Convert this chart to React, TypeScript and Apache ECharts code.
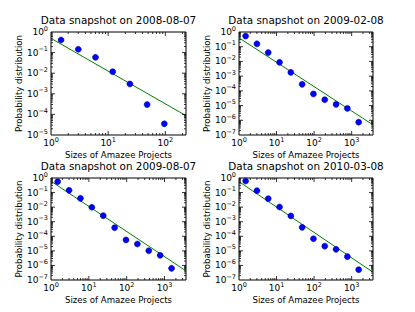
import React, { useEffect, useRef } from 'react';
import * as echarts from 'echarts';

const titles = [
  'Data snapshot on 2008-08-07',
  'Data snapshot on 2009-02-08',
  'Data snapshot on 2009-08-07',
  'Data snapshot on 2010-03-08',
];
const xAxisTitle = 'Sizes of Amazee Projects';
const yAxisTitle = 'Probability distribution';

const projectSizes = [1.5, 3, 6, 12, 24, 48, 96, 192, 384, 768, 1536];

const prob2008_08 = [0.41, 0.145, 0.059, 0.0118, 0.003, 3.0e-4, 3.5e-5];
const prob2009_02 = [0.53, 0.157, 0.04, 0.0087, 0.0018, 2.8e-4, 6.2e-5, 2.5e-5, 1.2e-5, 6.4e-6, 7.4e-7];
const prob2009_08 = [0.56, 0.143, 0.04, 0.0098, 0.0026, 3.9e-4, 5.6e-5, 2.95e-5, 1.02e-5, 4.95e-6, 6.3e-7];
const prob2010_03 = [0.62, 0.134, 0.038, 0.0102, 0.0025, 4.1e-4, 6.8e-5, 2.1e-5, 1.28e-5, 4.0e-6, 5.1e-7];

// power-law fit lines (endpoints)
const fit2008_08 = [[1, 0.49], [230, 8.7e-5]];
const fit2009_02 = [[1, 0.4], [3700, 4.9e-7]];
const fit2009_08 = [[1, 0.6], [3700, 4.2e-7]];
const fit2010_03 = [[1, 0.56], [3700, 3.4e-7]];

const panelProbs = [prob2008_08, prob2009_02, prob2009_08, prob2010_03];
const panelFits = [fit2008_08, fit2009_02, fit2009_08, fit2010_03];
const xMin = [1, 1, 1, 1];
const xMax = [230, 3700, 3700, 3700];
const yMin = [1e-5, 1e-7, 1e-7, 1e-7];
const yMax = [1, 1, 1, 1];

const FONT = 'DejaVu Sans';

const grids = [
  { left: 51, top: 32, width: 135, height: 103 },
  { left: 239, top: 32, width: 134, height: 103 },
  { left: 51, top: 178, width: 135, height: 102 },
  { left: 239, top: 178, width: 134, height: 102 },
];
const titleTops = [15, 15, 161, 161];

function logTicks(min: number, max: number) {
  const out: { v: number; major: number }[] = [];
  const e0 = Math.floor(Math.log10(min));
  const e1 = Math.ceil(Math.log10(max));
  for (let e = e0; e <= e1; e++) {
    for (let m = 1; m <= 9; m++) {
      const v = m * Math.pow(10, e);
      if (v > min * (1 + 1e-9) && v < max * (1 - 1e-9)) out.push({ v, major: m === 1 ? 1 : 0 });
    }
  }
  return out;
}

function labelFmt(v: number) {
  const l = Math.log10(v);
  const e = Math.round(l);
  if (Math.abs(l - e) > 1e-6) return '';
  const s = e < 0 ? '\u2212' + String(-e) : String(e);
  return '{b|10}{s|' + s + '}';
}

const rich = {
  b: { fontSize: 9, fontFamily: FONT, color: '#000', lineHeight: 10 },
  s: { fontSize: 6.5, fontFamily: FONT, color: '#000', lineHeight: 7, padding: [0, 0, 7, 0] },
};

export default function App() {
  const ref = useRef<HTMLDivElement>(null);
  useEffect(() => {
    if (!ref.current) return;
    const chart = echarts.init(ref.current, undefined, { renderer: 'svg' });
    const title: any[] = [];
    const grid: any[] = [];
    const xAxis: any[] = [];
    const yAxis: any[] = [];
    const series: any[] = [];
    for (let i = 0; i < 4; i++) {
      const g = grids[i];
      grid.push({ ...g, show: true, borderColor: '#000', borderWidth: 1, backgroundColor: 'transparent' });
      title.push({
        text: titles[i],
        left: g.left + g.width / 2,
        top: titleTops[i],
        textAlign: 'center',
        padding: 0,
        textStyle: { fontSize: 10.4, fontWeight: 'normal', fontFamily: FONT, color: '#000' },
      });
      xAxis.push({
        type: 'log',
        gridIndex: i,
        min: xMin[i],
        max: xMax[i],
        logBase: 10,
        name: xAxisTitle,
        nameLocation: 'middle',
        nameGap: 15,
        nameTextStyle: { fontSize: 8.6, fontFamily: FONT, color: '#000' },
        axisLine: { show: false },
        axisTick: { show: false },
        splitLine: { show: false },
        axisLabel: { margin: 3, formatter: labelFmt, rich, showMaxLabel: true, showMinLabel: true },
      });
      yAxis.push({
        type: 'log',
        gridIndex: i,
        min: yMin[i],
        max: yMax[i],
        logBase: 10,
        name: yAxisTitle,
        nameLocation: 'middle',
        nameGap: 24,
        nameTextStyle: { fontSize: 8.6, fontFamily: FONT, color: '#000' },
        axisLine: { show: false },
        axisTick: { show: false },
        splitLine: { show: false },
        axisLabel: { margin: 3, formatter: labelFmt, rich, showMaxLabel: true, showMinLabel: true },
      });
      const tickData: number[][] = [];
      logTicks(xMin[i], xMax[i]).forEach((t) => tickData.push([t.v, yMin[i], 0, t.major]));
      logTicks(yMin[i], yMax[i]).forEach((t) => tickData.push([xMin[i], t.v, 1, t.major]));
      series.push({
        type: 'custom',
        xAxisIndex: i,
        yAxisIndex: i,
        silent: true,
        z: 5,
        data: tickData,
        renderItem: (params: any, api: any) => {
          const kind = api.value(2);
          const len = api.value(3) ? 4 : 2;
          const p = api.coord([api.value(0), api.value(1)]);
          const cs = params.coordSys;
          const st = { stroke: '#000', lineWidth: 0.8 };
          if (kind === 0) {
            return {
              type: 'group',
              children: [
                { type: 'line', shape: { x1: p[0], y1: cs.y + cs.height, x2: p[0], y2: cs.y + cs.height - len }, style: st },
                { type: 'line', shape: { x1: p[0], y1: cs.y, x2: p[0], y2: cs.y + len }, style: st },
              ],
            };
          }
          return {
            type: 'group',
            children: [
              { type: 'line', shape: { x1: cs.x, y1: p[1], x2: cs.x + len, y2: p[1] }, style: st },
              { type: 'line', shape: { x1: cs.x + cs.width, y1: p[1], x2: cs.x + cs.width - len, y2: p[1] }, style: st },
            ],
          };
        },
      });
      series.push({
        type: 'line',
        xAxisIndex: i,
        yAxisIndex: i,
        data: panelFits[i],
        showSymbol: false,
        symbol: 'none',
        lineStyle: { color: '#008000', width: 1 },
        z: 3,
      });
      series.push({
        type: 'scatter',
        xAxisIndex: i,
        yAxisIndex: i,
        data: panelProbs[i].map((p, k) => [projectSizes[k], p]),
        symbol: 'circle',
        symbolSize: 6,
        itemStyle: { color: '#0000ff', borderColor: '#00007f', borderWidth: 0.5, opacity: 1 },
        z: 4,
      });
    }
    chart.setOption({
      animation: false,
      backgroundColor: '#fff',
      title,
      grid,
      xAxis,
      yAxis,
      series,
    });
    return () => chart.dispose();
  }, []);
  return <div ref={ref} style={{ position: 'fixed', left: 0, top: 0, width: 415, height: 312 }} />;
}
